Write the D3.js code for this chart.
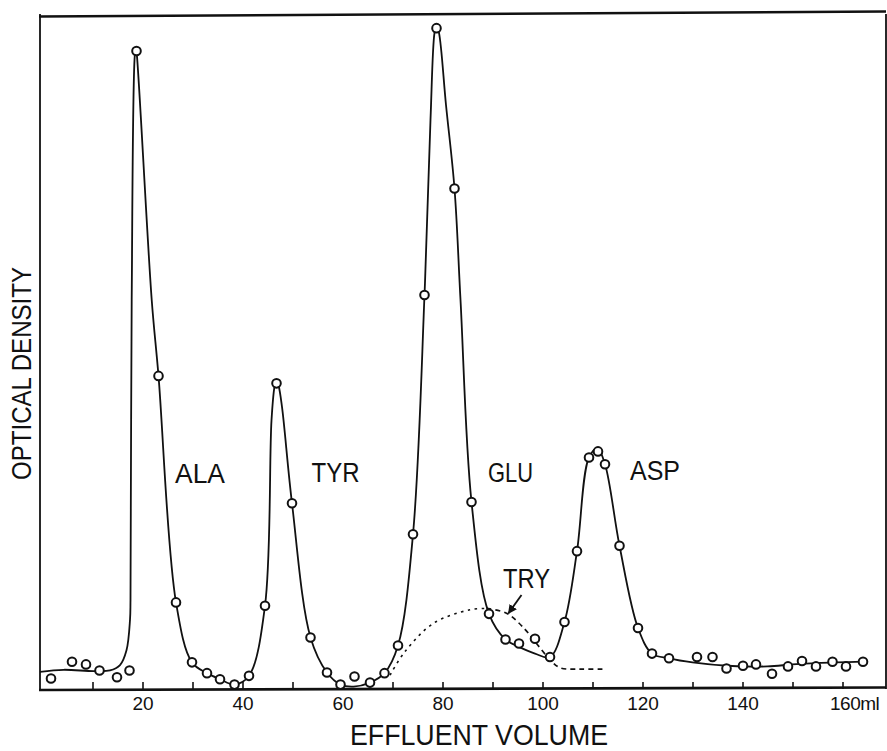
<!DOCTYPE html>
<html>
<head>
<meta charset="utf-8">
<script src="https://cdn.jsdelivr.net/npm/d3@7"></script>
<style>
  html, body { margin: 0; padding: 0; background: #fff; }
  svg { display: block; }
  text { font-family: "Liberation Sans", Arial, sans-serif; fill: #111; }
</style>
</head>
<body>
<svg id="chart" width="887" height="751"></svg>
<script>
// ---------- DATA ----------
// Observed fractions: effluent volume (ml) and optical density (relative units, 0..1 of plot height)
const pointVolume = [1.7, 5.9, 8.7, 11.4, 14.9, 17.4, 18.8, 23.2, 26.7, 29.9, 32.9, 35.5, 38.4, 41.3, 44.5,
  46.8, 49.9, 53.6, 56.9, 59.6, 62.4, 65.5, 68.4, 71.1, 74.1, 76.4, 78.8, 82.4, 85.8, 89.3,
  92.6, 95.3, 98.5, 101.5, 104.4, 106.9, 109.3, 111.1, 112.5, 115.4, 119.1, 121.9, 125.3,
  130.9, 134.0, 136.8, 140.1, 142.7, 145.9, 149.1, 151.9, 154.7, 158.0, 160.7, 164.1];
const pointOD = [0.017, 0.042, 0.038, 0.029, 0.019, 0.029, 0.948, 0.466, 0.130, 0.041, 0.025, 0.016, 0.008, 0.021, 0.125,
  0.455, 0.277, 0.078, 0.026, 0.008, 0.020, 0.011, 0.025, 0.066, 0.231, 0.586, 0.982, 0.744, 0.279, 0.113,
  0.075, 0.069, 0.076, 0.049, 0.101, 0.206, 0.345, 0.354, 0.335, 0.214, 0.092, 0.054, 0.047,
  0.049, 0.049, 0.032, 0.036, 0.038, 0.024, 0.035, 0.043, 0.035, 0.042, 0.035, 0.042];

// Smooth (solid) elution curve
const curveVolume = [-0.5, 4.2, 10.2, 13.5, 15.5, 16.8, 17.5, 17.6, 17.84, 18.5, 18.7, 18.84, 21.84, 23.2, 26.7,
  29.9, 32.9, 35.5, 38.4, 41.3, 44.5, 45.8, 46.4, 46.75, 47.2, 47.9, 49.9, 53.6, 56.9, 59.6, 62.2, 65.5, 68.4, 71.1,
  74.1, 76.4, 77.6, 78.4, 78.8, 79.3, 80.7, 82.4, 83.6, 85.8, 89.3, 92.6, 95.3, 98.5, 101.5, 104.4, 106.9, 109.3,
  111.0, 112.5, 115.4, 119.1, 121.9, 125.3, 130, 137, 145, 150, 155, 164.1];
const curveOD = [0.027, 0.030, 0.028, 0.029, 0.037, 0.059, 0.104, 0.134, 0.579, 0.945, 0.951, 0.945, 0.579, 0.466, 0.130,
  0.041, 0.025, 0.016, 0.008, 0.021, 0.125, 0.400, 0.450, 0.460, 0.452, 0.420, 0.277, 0.078, 0.026, 0.008, 0.005, 0.011, 0.025, 0.066,
  0.231, 0.586, 0.846, 0.975, 0.986, 0.975, 0.868, 0.744, 0.579, 0.279, 0.113, 0.075, 0.064, 0.054, 0.049, 0.101, 0.206, 0.345,
  0.358, 0.335, 0.214, 0.092, 0.054, 0.047, 0.041, 0.036, 0.035, 0.038, 0.040, 0.042];

// TRY (tryptophan) estimated peak, dotted rising part and dashed falling part
const tryRiseVolume = [69.5, 72.5, 78.2, 85.5, 88.8];
const tryRiseOD = [0.022, 0.057, 0.099, 0.119, 0.121];
const tryFallVolume = [88.8, 92.8, 96.5, 98.8, 101.5, 103.5, 107.5, 112.2];
const tryFallOD = [0.121, 0.114, 0.090, 0.069, 0.045, 0.033, 0.031, 0.031];

// Peak labels
const peakLabels = ["ALA", "TYR", "GLU", "ASP", "TRY"];
const labelVolume = [31.5, 58.6, 93.6, 122.5, 96.8];
const labelOD = [0.307, 0.309, 0.309, 0.312, 0.151];

// Arrow from TRY label to its curve
const arrowVolume = [95.8, 93.2];
const arrowOD = [0.141, 0.114];

// Axis ticks
const tickValues = [10, 20, 30, 40, 50, 60, 70, 80, 90, 100, 110, 120, 130, 140, 150, 160];
const tickLabels = {20: "20", 40: "40", 60: "60", 80: "80", 100: "100", 120: "120", 140: "140", 160: "160ml"};
const xTitle = "EFFLUENT VOLUME";
const yTitle = "OPTICAL DENSITY";

// ---------- DRAW ----------
const svg = d3.select("#chart");
const x = d3.scaleLinear().domain([0, 160]).range([42.5, 842.5]);
const y = d3.scaleLinear().domain([0, 1]).range([690, 16]);

const frameLeft = 40, frameRight = 886, frameTop = 14, frameBottom = 689;

// frame
svg.append("line").attr("x1", frameLeft).attr("x2", frameLeft).attr("y1", frameTop).attr("y2", frameBottom)
  .attr("stroke", "#111").attr("stroke-width", 1.8);
svg.append("line").attr("x1", frameRight).attr("x2", frameRight).attr("y1", frameTop).attr("y2", frameBottom)
  .attr("stroke", "#111").attr("stroke-width", 1.8);
svg.append("line").attr("x1", frameLeft - 1).attr("x2", frameRight).attr("y1", 16.5).attr("y2", 11.5)
  .attr("stroke", "#111").attr("stroke-width", 2.6);
svg.append("line").attr("x1", frameLeft - 1).attr("x2", frameRight).attr("y1", frameBottom + 1).attr("y2", frameBottom - 1.5)
  .attr("stroke", "#111").attr("stroke-width", 2.6);

// x axis (inward ticks)
const axis = d3.axisBottom(x)
  .tickValues(tickValues)
  .tickFormat(d => tickLabels[d] || "")
  .tickSize(-7)
  .tickSizeOuter(0)
  .tickPadding(8);
const gAxis = svg.append("g").attr("transform", `translate(0,${frameBottom})`).call(axis);
gAxis.select(".domain").remove();
gAxis.selectAll(".tick line").attr("stroke", "#111").attr("stroke-width", 1.6);
gAxis.selectAll(".tick text")
  .style("font-family", '"Liberation Sans", Arial, sans-serif')
  .style("font-size", "19px")
  .attr("fill", "#111");
gAxis.selectAll(".tick").filter(d => d === 160).select("text")
  .attr("text-anchor", "start").attr("x", -13).attr("letter-spacing", "-0.5px");

// smooth curve
const curveData = curveVolume.map((v, i) => [v, curveOD[i]]);
const line = d3.line().x(d => x(d[0])).y(d => y(d[1])).curve(d3.curveCatmullRom.alpha(0.5));
svg.append("path").datum(curveData).attr("d", line)
  .attr("fill", "none").attr("stroke", "#111").attr("stroke-width", 1.8);

// TRY dotted/dashed curve
const riseData = tryRiseVolume.map((v, i) => [v, tryRiseOD[i]]);
const fallData = tryFallVolume.map((v, i) => [v, tryFallOD[i]]);
svg.append("path").datum(riseData).attr("d", line)
  .attr("fill", "none").attr("stroke", "#111").attr("stroke-width", 1.6).attr("stroke-dasharray", "2.5,4.5");
svg.append("path").datum(fallData).attr("d", line)
  .attr("fill", "none").attr("stroke", "#111").attr("stroke-width", 1.7).attr("stroke-dasharray", "5,4");

// arrow
svg.append("defs").append("marker")
  .attr("id", "arrowhead").attr("viewBox", "0 0 10 10").attr("refX", 9).attr("refY", 5)
  .attr("markerWidth", 9).attr("markerHeight", 9).attr("markerUnits", "userSpaceOnUse")
  .attr("orient", "auto")
  .append("path").attr("d", "M0,0 L10,5 L0,10 Z").attr("fill", "#111");
svg.append("line")
  .attr("x1", x(arrowVolume[0])).attr("y1", y(arrowOD[0]))
  .attr("x2", x(arrowVolume[1])).attr("y2", y(arrowOD[1]))
  .attr("stroke", "#111").attr("stroke-width", 1.8).attr("marker-end", "url(#arrowhead)");

// points
svg.append("g").selectAll("circle")
  .data(pointVolume.map((v, i) => [v, pointOD[i]]))
  .join("circle")
  .attr("cx", d => x(d[0])).attr("cy", d => y(d[1])).attr("r", 4.3)
  .attr("fill", "#fff").attr("stroke", "#111").attr("stroke-width", 2);

// peak labels
const labelWidths = [50, 48, 45, 50, 47];
svg.append("g").selectAll("text")
  .data(peakLabels)
  .join("text")
  .attr("x", (d, i) => x(labelVolume[i]) - labelWidths[i] / 2)
  .attr("y", (d, i) => y(labelOD[i]))
  .attr("textLength", (d, i) => labelWidths[i])
  .attr("lengthAdjust", "spacingAndGlyphs")
  .style("font-size", "27px")
  .text(d => d);

// axis titles
svg.append("text").attr("x", 350).attr("y", 745)
  .attr("textLength", 258).attr("lengthAdjust", "spacingAndGlyphs")
  .style("font-size", "29px").text(xTitle);
svg.append("text")
  .attr("transform", "translate(31,480) rotate(-90)")
  .attr("textLength", 213).attr("lengthAdjust", "spacingAndGlyphs")
  .style("font-size", "27px").text(yTitle);
</script>
</body>
</html>
